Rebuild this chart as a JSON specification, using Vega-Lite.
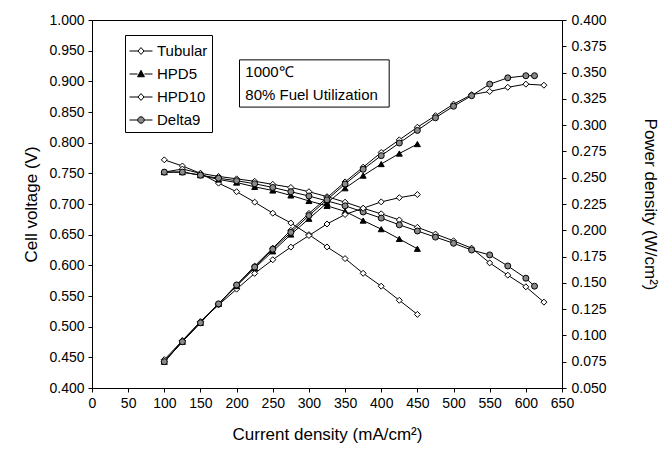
{
  "$schema": "https://vega.github.io/schema/vega-lite/v6.json",
  "width": 470,
  "height": 368,
  "autosize": "none",
  "padding": {"left": 92, "top": 20, "right": 105, "bottom": 61},
  "background": "white",
  "config": {
    "font": "Liberation Sans",
    "view": {"stroke": "black", "strokeWidth": 1},
    "axis": {
      "grid": false,
      "domainColor": "black",
      "tickColor": "black",
      "labelColor": "black",
      "titleColor": "black",
      "labelFont": "Liberation Sans",
      "titleFont": "Liberation Sans",
      "labelFontSize": 14,
      "titleFontSize": 17,
      "titleFontWeight": "normal",
      "tickSize": 4,
      "labelPadding": 4,
      "labelFlush": false,
      "labelOverlap": false
    },
    "legend": {
      "orient": "none",
      "legendX": 33,
      "legendY": 15,
      "strokeColor": "black",
      "fillColor": "white",
      "padding": 4,
      "labelFont": "Liberation Sans",
      "labelFontSize": 15,
      "labelColor": "black",
      "labelOffset": 4,
      "symbolSize": 529,
      "symbolStrokeWidth": 1,
      "rowPadding": 3
    }
  },
  "data": {
    "values": [
      {"series": "Tubular", "I": 100, "V": 0.772, "P": 0.077},
      {"series": "Tubular", "I": 125, "V": 0.762, "P": 0.095},
      {"series": "Tubular", "I": 150, "V": 0.750, "P": 0.113},
      {"series": "Tubular", "I": 175, "V": 0.734, "P": 0.129},
      {"series": "Tubular", "I": 200, "V": 0.720, "P": 0.144},
      {"series": "Tubular", "I": 225, "V": 0.703, "P": 0.159},
      {"series": "Tubular", "I": 250, "V": 0.685, "P": 0.172},
      {"series": "Tubular", "I": 275, "V": 0.669, "P": 0.184},
      {"series": "Tubular", "I": 300, "V": 0.650, "P": 0.195},
      {"series": "Tubular", "I": 325, "V": 0.630, "P": 0.206},
      {"series": "Tubular", "I": 350, "V": 0.611, "P": 0.215},
      {"series": "Tubular", "I": 375, "V": 0.587, "P": 0.221},
      {"series": "Tubular", "I": 400, "V": 0.566, "P": 0.227},
      {"series": "Tubular", "I": 425, "V": 0.543, "P": 0.231},
      {"series": "Tubular", "I": 450, "V": 0.520, "P": 0.234},
      {"series": "HPD5", "I": 100, "V": 0.752, "P": 0.075},
      {"series": "HPD5", "I": 125, "V": 0.752, "P": 0.094},
      {"series": "HPD5", "I": 150, "V": 0.747, "P": 0.112},
      {"series": "HPD5", "I": 175, "V": 0.740, "P": 0.130},
      {"series": "HPD5", "I": 200, "V": 0.735, "P": 0.147},
      {"series": "HPD5", "I": 225, "V": 0.728, "P": 0.164},
      {"series": "HPD5", "I": 250, "V": 0.722, "P": 0.180},
      {"series": "HPD5", "I": 275, "V": 0.714, "P": 0.196},
      {"series": "HPD5", "I": 300, "V": 0.705, "P": 0.211},
      {"series": "HPD5", "I": 325, "V": 0.697, "P": 0.226},
      {"series": "HPD5", "I": 350, "V": 0.688, "P": 0.240},
      {"series": "HPD5", "I": 375, "V": 0.673, "P": 0.252},
      {"series": "HPD5", "I": 400, "V": 0.659, "P": 0.263},
      {"series": "HPD5", "I": 425, "V": 0.643, "P": 0.273},
      {"series": "HPD5", "I": 450, "V": 0.627, "P": 0.282},
      {"series": "HPD10", "I": 100, "V": 0.752, "P": 0.075},
      {"series": "HPD10", "I": 125, "V": 0.757, "P": 0.095},
      {"series": "HPD10", "I": 150, "V": 0.750, "P": 0.113},
      {"series": "HPD10", "I": 175, "V": 0.745, "P": 0.130},
      {"series": "HPD10", "I": 200, "V": 0.741, "P": 0.148},
      {"series": "HPD10", "I": 225, "V": 0.737, "P": 0.166},
      {"series": "HPD10", "I": 250, "V": 0.732, "P": 0.183},
      {"series": "HPD10", "I": 275, "V": 0.727, "P": 0.200},
      {"series": "HPD10", "I": 300, "V": 0.720, "P": 0.216},
      {"series": "HPD10", "I": 325, "V": 0.712, "P": 0.231},
      {"series": "HPD10", "I": 350, "V": 0.703, "P": 0.246},
      {"series": "HPD10", "I": 375, "V": 0.693, "P": 0.260},
      {"series": "HPD10", "I": 400, "V": 0.684, "P": 0.274},
      {"series": "HPD10", "I": 425, "V": 0.674, "P": 0.286},
      {"series": "HPD10", "I": 450, "V": 0.662, "P": 0.298},
      {"series": "HPD10", "I": 475, "V": 0.651, "P": 0.309},
      {"series": "HPD10", "I": 500, "V": 0.640, "P": 0.320},
      {"series": "HPD10", "I": 525, "V": 0.628, "P": 0.329},
      {"series": "HPD10", "I": 550, "V": 0.604, "P": 0.332},
      {"series": "HPD10", "I": 575, "V": 0.584, "P": 0.336},
      {"series": "HPD10", "I": 600, "V": 0.565, "P": 0.339},
      {"series": "HPD10", "I": 625, "V": 0.540, "P": 0.338},
      {"series": "Delta9", "I": 100, "V": 0.752, "P": 0.075},
      {"series": "Delta9", "I": 125, "V": 0.752, "P": 0.094},
      {"series": "Delta9", "I": 150, "V": 0.747, "P": 0.112},
      {"series": "Delta9", "I": 175, "V": 0.742, "P": 0.130},
      {"series": "Delta9", "I": 200, "V": 0.738, "P": 0.148},
      {"series": "Delta9", "I": 225, "V": 0.733, "P": 0.165},
      {"series": "Delta9", "I": 250, "V": 0.727, "P": 0.182},
      {"series": "Delta9", "I": 275, "V": 0.720, "P": 0.198},
      {"series": "Delta9", "I": 300, "V": 0.713, "P": 0.214},
      {"series": "Delta9", "I": 325, "V": 0.705, "P": 0.229},
      {"series": "Delta9", "I": 350, "V": 0.697, "P": 0.244},
      {"series": "Delta9", "I": 375, "V": 0.687, "P": 0.258},
      {"series": "Delta9", "I": 400, "V": 0.677, "P": 0.271},
      {"series": "Delta9", "I": 425, "V": 0.666, "P": 0.283},
      {"series": "Delta9", "I": 450, "V": 0.656, "P": 0.295},
      {"series": "Delta9", "I": 475, "V": 0.646, "P": 0.307},
      {"series": "Delta9", "I": 500, "V": 0.636, "P": 0.318},
      {"series": "Delta9", "I": 525, "V": 0.625, "P": 0.328},
      {"series": "Delta9", "I": 550, "V": 0.617, "P": 0.339},
      {"series": "Delta9", "I": 575, "V": 0.599, "P": 0.345},
      {"series": "Delta9", "I": 600, "V": 0.579, "P": 0.347},
      {"series": "Delta9", "I": 612, "V": 0.566, "P": 0.347}
    ]
  },
  "encoding": {
    "x": {
      "field": "I",
      "type": "quantitative",
      "scale": {"domain": [0, 650], "nice": false, "zero": false},
      "axis": {
        "title": "Current density (mA/cm²)",
        "values": [0, 50, 100, 150, 200, 250, 300, 350, 400, 450, 500, 550, 600, 650],
        "titlePadding": 16
      }
    }
  },
  "layer": [
    {
      "encoding": {
        "y": {
          "field": "V",
          "type": "quantitative",
          "scale": {"domain": [0.4, 1.0], "nice": false, "zero": false},
          "axis": {
            "title": "Cell voltage (V)",
            "values": [0.4, 0.45, 0.5, 0.55, 0.6, 0.65, 0.7, 0.75, 0.8, 0.85, 0.9, 0.95, 1.0],
            "format": ".3f",
            "titlePadding": 8
          }
        }
      },
      "layer": [
        {
          "mark": {"type": "line", "color": "black", "strokeWidth": 1},
          "encoding": {"detail": {"field": "series"}}
        },
        {
          "mark": {"type": "point", "filled": true, "stroke": "black", "strokeWidth": 1, "size": 36, "opacity": 1},
          "encoding": {
            "shape": {"field": "series", "type": "nominal", "scale": {"domain": ["Tubular", "HPD5", "HPD10", "Delta9"], "range": ["diamond", "triangle-up", "diamond", "circle"]}, "legend": null},
            "fill": {"field": "series", "type": "nominal", "scale": {"domain": ["Tubular", "HPD5", "HPD10", "Delta9"], "range": ["white", "black", "white", "#8a8a8a"]}, "legend": null}
          }
        },
        {
          "data": {"values": [{"I": 204, "I2": 411, "V": 0.935, "V2": 0.858}]},
          "mark": {"type": "rect", "filled": false, "stroke": "black", "strokeWidth": 1},
          "encoding": {
            "x2": {"field": "I2"},
            "y2": {"field": "V2"}
          }
        },
        {
          "data": {"values": [{"I": 212, "V": 0.915, "label": "1000℃"}, {"I": 212, "V": 0.878, "label": "80% Fuel Utilization"}]},
          "mark": {"type": "text", "align": "left", "baseline": "middle", "fontSize": 15, "font": "Liberation Sans", "color": "black"},
          "encoding": {"text": {"field": "label"}}
        }
      ]
    },
    {
      "encoding": {
        "y": {
          "field": "P",
          "type": "quantitative",
          "scale": {"domain": [0.05, 0.4], "nice": false, "zero": false},
          "axis": {
            "orient": "right",
            "title": "Power density (W/cm²)",
            "values": [0.05, 0.075, 0.1, 0.125, 0.15, 0.175, 0.2, 0.225, 0.25, 0.275, 0.3, 0.325, 0.35, 0.375, 0.4],
            "format": ".3f",
            "titlePadding": 34,
            "labelPadding": 5
          }
        }
      },
      "layer": [
        {
          "mark": {"type": "line", "color": "black", "strokeWidth": 1},
          "encoding": {"detail": {"field": "series"}}
        },
        {
          "mark": {"type": "point", "filled": true, "stroke": "black", "strokeWidth": 1, "size": 36, "opacity": 1},
          "encoding": {
            "shape": {"field": "series", "type": "nominal", "scale": {"domain": ["Tubular", "HPD5", "HPD10", "Delta9"], "range": ["diamond", "triangle-up", "diamond", "circle"]}, "legend": null},
            "fill": {"field": "series", "type": "nominal", "scale": {"domain": ["Tubular", "HPD5", "HPD10", "Delta9"], "range": ["white", "black", "white", "#8a8a8a"]}, "legend": null}
          }
        }
      ]
    },
    {
      "transform": [{"filter": "datum.I < 0"}],
      "mark": {"type": "point", "filled": true, "strokeWidth": 1, "opacity": 1},
      "encoding": {
        "shape": {
          "field": "series",
          "type": "nominal",
          "scale": {
            "domain": ["Tubular", "HPD5", "HPD10", "Delta9"],
            "range": [
              "M-1,0L-0.26,0M0.26,0L1,0M0,-0.3L0.26,0L0,0.3L-0.26,0Z",
              "M-1,0L-0.3,0M0.3,0L1,0M0,-0.32L0.3,0.24L-0.3,0.24Z",
              "M-1,0L-0.26,0M0.26,0L1,0M0,-0.3L0.26,0L0,0.3L-0.26,0Z",
              "M-1,0L-0.28,0M0.28,0L1,0M-0.28,0A0.28,0.28 0 1,0 0.28,0A0.28,0.28 0 1,0 -0.28,0Z"
            ]
          },
          "legend": {"title": null}
        },
        "fill": {
          "field": "series",
          "type": "nominal",
          "scale": {"domain": ["Tubular", "HPD5", "HPD10", "Delta9"], "range": ["white", "black", "white", "#8a8a8a"]},
          "legend": {"title": null}
        },
        "stroke": {
          "field": "series",
          "type": "nominal",
          "scale": {"domain": ["Tubular", "HPD5", "HPD10", "Delta9"], "range": ["black", "black", "black", "black"]},
          "legend": {"title": null}
        }
      }
    }
  ],
  "resolve": {"scale": {"y": "independent", "shape": "independent", "fill": "independent", "stroke": "independent"}}
}
